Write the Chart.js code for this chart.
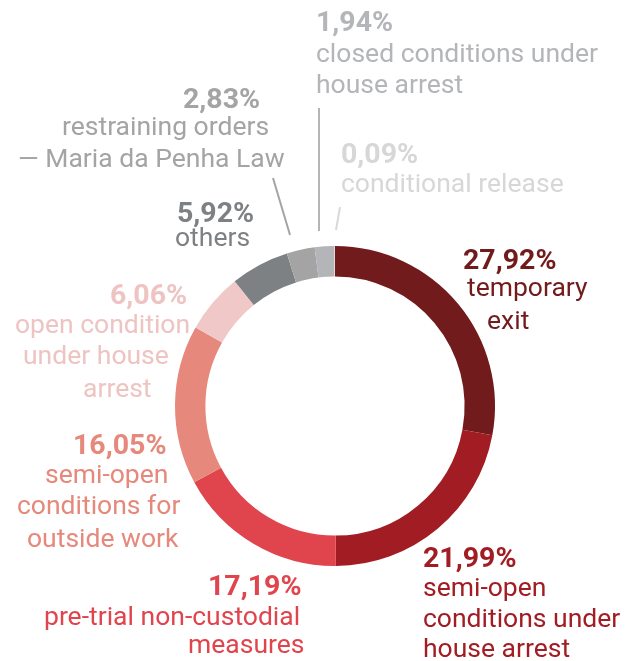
<!DOCTYPE html>
<html>
<head>
<meta charset="utf-8">
<script src="https://cdn.jsdelivr.net/npm/chart.js@4.4.1/dist/chart.umd.min.js"></script>
<style>
  html, body { margin: 0; padding: 0; background: #ffffff; }
  #wrap { width: 638px; height: 661px; position: relative; }
</style>
</head>
<body>
<div id="wrap"><canvas id="donut"></canvas></div>
<script>
// Categorias e valores (ordem horária a partir do topo)
const percentLabels = ['27,92%', '21,99%', '17,19%', '16,05%', '6,06%', '5,92%', '2,83%', '1,94%', '0,09%'];
const categoryLines = [
    ['temporary', 'exit'],
    ['semi-open', 'conditions under', 'house arrest'],
    ['pre-trial non-custodial', 'measures'],
    ['semi-open', 'conditions for', 'outside work'],
    ['open condition', 'under house', 'arrest'],
    ['others'],
    ['restraining orders', '\u2014 Maria da Penha Law'],
    ['closed conditions under', 'house arrest'],
    ['conditional release'],
];
const values = [27.92, 21.99, 17.19, 16.05, 6.06, 5.92, 2.83, 1.94, 0.09];
const sliceColors = ['#721b1c', '#a21c23', '#e0444c', '#e6887b', '#efc8c7', '#7e8184', '#a4a4a4', '#b3b5b8', '#d9d9d9'];
const textColors = ['#721b1c', '#a21c23', '#e0444c', '#e6887b', '#eec4c3', '#7e8184', '#a4a4a4', '#b3b5b8', '#d7d7d7'];

// Posição dos textos (x, linha de base) para cada linha de cada rótulo
const labelPos = [
    [[463, 269], [467, 296], [487, 329]],
    [[423, 567], [423, 596], [423, 627], [423, 657]],
    [[208, 595], [44, 625], [188, 653]],
    [[73, 454], [45, 483], [17, 514], [27, 547]],
    [[110, 304], [15, 333], [23, 364], [83, 397]],
    [[177, 222], [175, 246]],
    [[183, 108], [62, 135], [18, 167]],
    [[316, 31], [316, 62], [316, 93]],
    [[341, 163], [341, 192]],
];

// Linhas de chamada para as fatias pequenas
const leaders = [
    { from: [273, 178], to: [290, 235], color: '#a4a4a4' },
    { from: [319, 108], to: [319, 231], color: '#b3b5b8' },
    { from: [340, 207], to: [336, 230], color: '#d9d9d9' },
];

const labelsPlugin = {
    id: 'labelsPlugin',
    afterDraw(chart) {
        const ctx = chart.ctx;
        ctx.save();
        ctx.textAlign = 'left';
        ctx.textBaseline = 'alphabetic';
        percentLabels.forEach((pct, i) => {
            const pos = labelPos[i];
            ctx.fillStyle = textColors[i];
            ctx.font = 'bold 28.5px Roboto';
            ctx.fillText(pct, pos[0][0], pos[0][1]);
            ctx.font = '26.5px Roboto';
            categoryLines[i].forEach((line, j) => {
                ctx.fillText(line, pos[j + 1][0], pos[j + 1][1]);
            });
        });
        ctx.lineWidth = 2;
        leaders.forEach((l) => {
            ctx.strokeStyle = l.color;
            ctx.beginPath();
            ctx.moveTo(l.from[0], l.from[1]);
            ctx.lineTo(l.to[0], l.to[1]);
            ctx.stroke();
        });
        ctx.restore();
    },
};

const ctxDonut = document.getElementById('donut').getContext('2d');
new Chart(ctxDonut, {
    type: 'doughnut',
    data: {
        labels: categoryLines.map((l) => l.join(' ')),
        datasets: [{
            data: values,
            backgroundColor: sliceColors,
            borderWidth: 0,
        }],
    },
    options: {
        responsive: true,
        maintainAspectRatio: false,
        animation: false,
        cutout: '81%',
        layout: { padding: { left: 175, right: 143, top: 246, bottom: 95 } },
        plugins: {
            legend: { display: false },
            tooltip: { enabled: false },
        },
    },
    plugins: [labelsPlugin],
});
</script>
</body>
</html>
